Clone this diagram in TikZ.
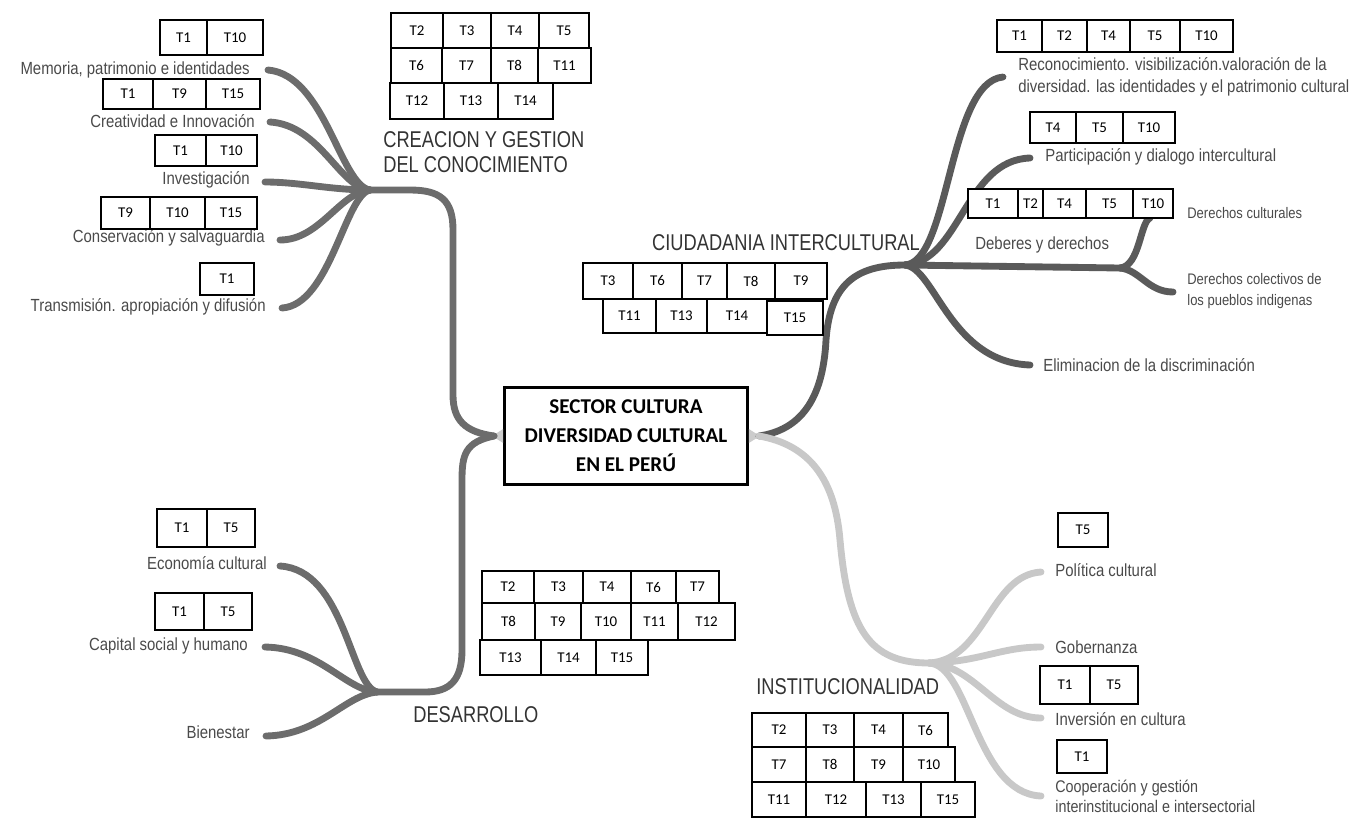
\documentclass[tikz,border=0pt]{standalone}
\usepackage{fontspec}
\setmainfont{Liberation Sans}
\newfontfamily\lblfont[FakeStretch=0.85]{Liberation Sans}
\newfontfamily\headfont[FakeStretch=0.8]{Liberation Sans}
\newfontfamily\cellfont{Carlito}
\usetikzlibrary{positioning}

\definecolor{brdark}{HTML}{6C6C6C}
\definecolor{brciud}{HTML}{5A5A5A}
\definecolor{brlight}{HTML}{C8C8C8}
\definecolor{txtgray}{HTML}{4A4A4A}

\tikzset{
  cell/.style={draw, fill=white, line width=0.7pt, inner sep=0pt, font=\cellfont\fontsize{8.5}{9}\selectfont},
  lbl/.style={inner sep=0pt, text=txtgray, font=\lblfont\fontsize{10}{12.5}\selectfont},
  small lbl/.style={inner sep=0pt, text=txtgray, font=\lblfont\fontsize{8.7}{12}\selectfont},
  heading/.style={inner sep=0pt, text=black!80, font=\headfont\fontsize{13}{14.2}\selectfont},
  branch/.style={line width=3.9pt, line cap=round},
}

\newcommand{\cellrow}[4]{%
  \foreach \xa/\xb/\lab in {#4}{%
    \node[cell, minimum width={(\xb-\xa)*0.02cm}, minimum height={(#3-#2)*0.02cm}]
      (#1\lab) at ({(\xa+\xb)/2},{(#2+#3)/2}) {\lab};
  }}

\begin{document}
\begin{tikzpicture}[x=0.02cm,y=-0.02cm]
\useasboundingbox (0,0) rectangle (1369,819);

\node[draw, line width=1.6pt, minimum width=4.86cm, minimum height=1.94cm, align=center,
  font=\cellfont\bfseries\fontsize{12}{16.5}\selectfont] (core) at (626,436)
  {SECTOR CULTURA\\DIVERSIDAD CULTURAL\\EN EL PERÚ};
\fill[gray!40] (core.west) ++(0,-7) -- ++(-11,7) -- ++(11,7) -- cycle;
\fill[gray!40] (core.east) ++(0,-7) -- ++(11,7) -- ++(-11,7) -- cycle;

\coordinate (tl) at (494,436);
\coordinate (tr) at (759,436);
\coordinate (h1) at (370,190);
\coordinate (h2) at (377,692);
\coordinate (h3) at (905,265);
\coordinate (h4) at (1120,268);
\coordinate (h5) at (929,663);

\coordinate (memE) at (268,70);
\coordinate (creE) at (270,122);
\coordinate (invE) at (265,182);
\coordinate (conE) at (280,240);
\coordinate (traE) at (282,308);
\coordinate (ecoE) at (280,566);
\coordinate (capE) at (265,647);
\coordinate (bieE) at (266,736);
\coordinate (recE) at (1003,77);
\coordinate (parE) at (1030,158);
\coordinate (dcE) at (1150,218);
\coordinate (dcoE) at (1173,292);
\coordinate (eliE) at (1030,365);
\coordinate (polE) at (1041,572);
\coordinate (gobE) at (1041,647);
\coordinate (ivcE) at (1041,718);
\coordinate (cooE) at (1041,796);

\draw[branch, brdark] (tl) .. controls (465,432) and (453,420) .. (453,395) -- (453,230)
  .. controls (453,200) and (440,190) .. (410,190) -- (h1);
\draw[branch, brdark] (tl) .. controls (465,442) and (462,455) .. (462,480) -- (462,650)
  .. controls (462,680) and (450,692) .. (425,692) -- (h2);
\draw[branch, brciud] (tr) .. controls (800,430) and (823,400) .. (826,340)
  .. controls (830,285) and (855,265) .. (h3);
\draw[branch, brlight] (tr) .. controls (810,445) and (835,480) .. (840,540)
  .. controls (848,630) and (870,663) .. (h5);

\draw[branch, brdark] (h1) .. controls (340,185) and (325,75) .. (memE);
\draw[branch, brdark] (h1) .. controls (340,188) and (320,125) .. (creE);
\draw[branch, brdark] (h1) .. controls (330,190) and (300,182) .. (invE);
\draw[branch, brdark] (h1) .. controls (340,192) and (320,240) .. (conE);
\draw[branch, brdark] (h1) .. controls (345,195) and (330,305) .. (traE);

\draw[branch, brdark] (h2) .. controls (350,685) and (345,570) .. (ecoE);
\draw[branch, brdark] (h2) .. controls (345,690) and (320,648) .. (capE);
\draw[branch, brdark] (h2) .. controls (345,695) and (320,735) .. (bieE);

\draw[branch, brciud] (h3) .. controls (950,262) and (948,82) .. (recE);
\draw[branch, brciud] (h3) .. controls (960,262) and (965,160) .. (parE);
\draw[branch, brciud] (h3) -- (h4);
\draw[branch, brciud] (h4) .. controls (1140,266) and (1140,222) .. (dcE);
\draw[branch, brciud] (h4) .. controls (1140,270) and (1148,292) .. (dcoE);
\draw[branch, brciud] (h3) .. controls (935,268) and (950,362) .. (eliE);

\draw[branch, brlight] (h5) .. controls (985,660) and (990,575) .. (polE);
\draw[branch, brlight] (h5) .. controls (980,662) and (1000,647) .. (gobE);
\draw[branch, brlight] (h5) .. controls (975,665) and (995,718) .. (ivcE);
\draw[branch, brlight] (h5) .. controls (970,665) and (975,793) .. (cooE);

\node[heading, anchor=west, align=left] (kcre) at (383,152) {CREACION Y GESTION\\DEL CONOCIMIENTO};
\node[heading] (kciu) at (786,243) {CIUDADANIA INTERCULTURAL};
\node[heading, anchor=west] (kdes) at (413,715) {DESARROLLO};
\node[heading, anchor=west] (kins) at (756,687) {INSTITUCIONALIDAD};

\node[lbl, anchor=east] (memL) at (250,70) {Memoria, patrimonio e identidades};
\node[lbl, anchor=east] (creL) at (255,121) {Creatividad e Innovación};
\node[lbl, anchor=east] (invL) at (250,180) {Investigación};
\node[lbl, anchor=east] (conL) at (265,238) {Conservación y salvaguardia};
\node[lbl, anchor=east] (traL) at (266,307) {Transmisión. apropiación y difusión};
\node[lbl, anchor=east] (ecoL) at (267,563) {Economía cultural};
\node[lbl, anchor=east] (capL) at (248,646) {Capital social y humano};
\node[lbl, anchor=east] (bieL) at (250,732) {Bienestar};

\node[lbl, anchor=west, align=left] (recL) at (1018,77)
  {Reconocimiento. visibilización.valoración de la\\diversidad. las identidades y el patrimonio cultural};
\node[lbl, anchor=west] (parL) at (1045,157) {Participación y dialogo intercultural};
\node[small lbl, anchor=west] (dcL) at (1187,213) {Derechos culturales};
\node[lbl, anchor=west] (debL) at (975,245) {Deberes y derechos};
\node[small lbl, anchor=west, align=left] (dcoL) at (1187,291) {Derechos colectivos de\\los pueblos indigenas};
\node[lbl, anchor=west] (eliL) at (1043,365) {Eliminacion de la discriminación};
\node[lbl, anchor=west] (polL) at (1055,570) {Política cultural};
\node[lbl, anchor=west] (gobL) at (1055,647) {Gobernanza};
\node[lbl, anchor=west] (ivcL) at (1055,719) {Inversión en cultura};
\node[lbl, anchor=west, align=left, font=\lblfont\fontsize{9.6}{11.5}\selectfont] (cooL) at (1055,796)
  {Cooperación y gestión\\interinstitucional e intersectorial};

\cellrow{mem}{20}{55}{160/207/T1, 207/263/T10}
\cellrow{cre}{79}{109}{103/153/T1, 153/206/T9, 206/260/T15}
\cellrow{inv}{135}{166}{155/206/T1, 206/257/T10}
\cellrow{con}{197}{229}{101/150/T9, 150/205/T10, 205/257/T15}
\cellrow{tra}{263}{295}{200/254/T1}
\cellrow{cga}{13}{48}{391/443/T2, 443/491/T3, 491/539/T4, 539/589/T5}
\cellrow{cgb}{48}{83}{391/442/T6, 442/491/T7, 491/538/T8, 538/591/T11}
\cellrow{cgc}{83}{119}{390/444/T12, 444/498/T13, 498/553/T14}
\cellrow{cia}{263}{299}{583/633/T3, 633/682/T6, 682/727/T7, 727/775/T8, 775/827/T9}
\cellrow{cib}{299}{333}{603/656/T11, 656/707/T13, 707/767/T14}
\cellrow{cic}{301}{335}{767/823/T15}
\cellrow{rec}{20}{52}{997/1042/T1, 1042/1087/T2, 1087/1130/T4, 1130/1180/T5, 1180/1233/T10}
\cellrow{par}{112}{143}{1030/1076/T4, 1076/1123/T5, 1123/1175/T10}
\cellrow{dc}{189}{218}{968/1018/T1, 1018/1043/T2, 1043/1086/T4, 1086/1133/T5, 1133/1173/T10}
\cellrow{dga}{571}{603}{482/534/T2, 534/583/T3, 583/631/T4, 631/676/T6, 676/719/T7}
\cellrow{dgb}{603}{640}{482/535/T8, 535/581/T9, 581/631/T10, 631/678/T11, 678/735/T12}
\cellrow{dgc}{640}{675}{480/541/T13, 541/596/T14, 596/648/T15}
\cellrow{eco}{509}{547}{157/207/T1, 207/255/T5}
\cellrow{cap}{593}{630}{155/204/T1, 204/252/T5}
\cellrow{pol}{513}{547}{1058/1108/T5}
\cellrow{ivc}{666}{704}{1040/1090/T1, 1090/1138/T5}
\cellrow{coo}{740}{773}{1057/1107/T1}
\cellrow{iga}{713}{747}{752/806/T2, 806/854/T3, 854/903/T4, 903/948/T6}
\cellrow{igb}{747}{782}{752/806/T7, 806/854/T8, 854/903/T9, 903/955/T10}
\cellrow{igc}{782}{817}{752/806/T11, 806/866/T12, 866/921/T13, 921/975/T15}
\end{tikzpicture}
\end{document}
